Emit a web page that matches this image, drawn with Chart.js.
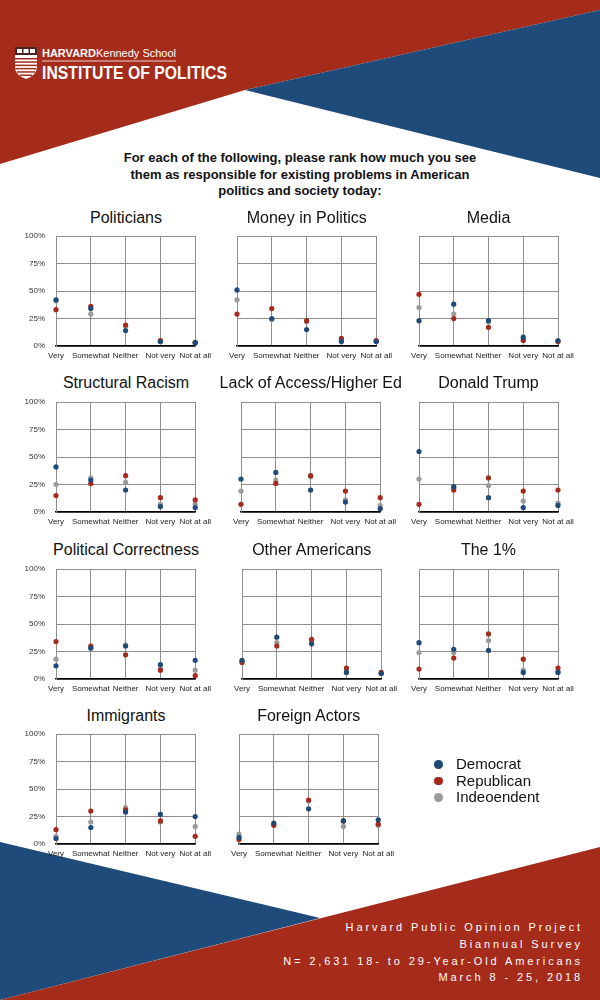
<!DOCTYPE html>
<html>
<head>
<meta charset="utf-8">
<script src="https://cdn.jsdelivr.net/npm/chart.js@4.4.1/dist/chart.umd.min.js"></script>
<style>
  body { margin: 0; background: #fff; }
  #page { position: relative; width: 600px; height: 1000px; overflow: hidden; background: #fff;
          font-family: "Liberation Sans", Arial, Helvetica, sans-serif; }
  #bg { position: absolute; left: 0; top: 0; }
  .heading { position: absolute; left: 0; top: 150px; width: 600px; text-align: center;
             font-size: 13px; font-weight: bold; line-height: 16.5px; color: #111; }
  .chart-title { position: absolute; text-align: center; font-size: 16px; line-height: 20px; color: #111; white-space: nowrap; }
  .chart-box { position: absolute; }
  .legend { position: absolute; left: 430px; top: 756px; font-size: 15px; line-height: 16.7px; color: #111; }
  .legend div { position: relative; padding-left: 26px; }
  .legend span { position: absolute; left: 4px; top: 4px; width: 8.6px; height: 8.6px; border-radius: 50%; }
  .footer { position: absolute; right: 17px; top: 919px; text-align: right; color: #fff;
            font-size: 11px; letter-spacing: 2.9px; line-height: 16.8px; }
</style>
</head>
<body>
<div id="page">
  <svg id="bg" width="600" height="1000" viewBox="0 0 600 1000">
    <!-- header shapes -->
    <polygon points="0,0 600,0 600,10 245,90 0,164" fill="#a52b1b"/>
    <polygon points="245,90 600,10 600,178" fill="#1f4b7b"/>
    <!-- footer shapes -->
    <polygon points="0,842 320,918 0,1000" fill="#1f4b7b"/>
    <polygon points="600,847 600,1000 0,1000" fill="#a52b1b"/>
    <!-- logo -->
    <path d="M15,47 H37 V67 Q37,75 26,79 Q15,75 15,67 Z" fill="#fff"/>
    <rect x="15" y="47" width="22" height="8" fill="#4a2320"/>
    <rect x="17" y="49" width="5" height="4" fill="#fff"/>
    <rect x="23.5" y="49" width="5" height="4" fill="#fff"/>
    <rect x="30" y="49" width="5" height="4" fill="#fff"/>
    <g fill="#a52b1b">
      <rect x="15" y="58" width="22" height="1.5"/>
      <rect x="15" y="61.3" width="22" height="1.5"/>
      <rect x="15" y="64.6" width="22" height="1.5"/>
      <rect x="15.5" y="67.9" width="21" height="1.5"/>
      <rect x="17" y="71.2" width="18" height="1.5"/>
      <rect x="20" y="74.5" width="12" height="1.5"/>
    </g>
    <text x="42" y="57" fill="#fff" font-family="Liberation Sans, Arial" font-size="11" font-weight="bold"
          textLength="134" lengthAdjust="spacingAndGlyphs">HARVARD<tspan font-weight="normal">Kennedy School</tspan></text>
    <line x1="42" y1="61" x2="176" y2="61" stroke="#fff" stroke-width="0.8"/>
    <text x="42" y="79" fill="#fff" font-family="Liberation Sans, Arial" font-size="18.5" font-weight="bold"
          textLength="185" lengthAdjust="spacingAndGlyphs">INSTITUTE OF POLITICS</text>
  </svg>

  <div class="heading">For each of the following, please rank how much you see<br>them as responsible for existing problems in American<br>politics and society today:</div>

  <div id="charts"></div>

  <div class="legend">
    <div><span style="background:#1f4a78"></span>Democrat</div>
    <div><span style="background:#a5291c"></span>Republican</div>
    <div><span style="background:#9b9b9b"></span>Indeoendent</div>
  </div>

  <div class="footer">Harvard Public Opinion Project<br>Biannual Survey<br>N= 2,631 18- to 29-Year-Old Americans<br>March 8 - 25, 2018</div>
</div>

<script>
// ---- data ----
const categories = ['Very', 'Somewhat', 'Neither', 'Not very', 'Not at all'];
const yTickLabels = ['0%', '25%', '50%', '75%', '100%'];

const topics = [
    'Politicians', 'Money in Politics', 'Media',
    'Structural Racism', 'Lack of Access/Higher Ed', 'Donald Trump',
    'Political Correctness', 'Other Americans', 'The 1%',
    'Immigrants', 'Foreign Actors'
];

const democrat = [
    [42, 34, 14, 4, 3],
    [51, 25, 15, 4, 4],
    [23, 38, 23, 8, 5],
    [41, 29, 20, 5, 4],
    [30, 36, 20, 9, 3],
    [55, 23, 13, 4, 6],
    [12, 28, 30, 13, 17],
    [17, 38, 32, 6, 5],
    [33, 27, 26, 6, 6],
    [5, 15, 29, 27, 25],
    [6, 19, 32, 21, 22]
];

const republican = [
    [33, 36, 19, 5, 3],
    [29, 34, 23, 7, 5],
    [47, 25, 17, 5, 4],
    [15, 26, 33, 13, 11],
    [7, 26, 33, 19, 13],
    [7, 20, 31, 19, 20],
    [34, 30, 22, 8, 3],
    [15, 30, 36, 10, 6],
    [9, 19, 41, 18, 10],
    [13, 30, 31, 21, 7],
    [4, 17, 40, 21, 18]
];

const independent = [
    [41, 29, 18, 4, 3],
    [42, 24, 22, 5, 4],
    [35, 29, 22, 6, 4],
    [25, 31, 27, 7, 7],
    [19, 29, 32, 11, 6],
    [30, 22, 24, 10, 8],
    [18, 29, 31, 9, 8],
    [16, 33, 35, 7, 5],
    [24, 24, 35, 8, 7],
    [7, 20, 33, 20, 16],
    [9, 18, 39, 16, 17]
];

// ---- layout (plot rectangles) ----
const rowTops = [236, 402, 569, 734];
const titleCenters = [218, 383, 550, 716];
const colLefts = [
    [56, 237, 419],
    [56, 241, 419],
    [56, 242, 419],
    [56, 239]
];
const plotWidths = [140, 139.5, 139];

const COLORS = { dem: '#1f4a78', rep: '#a5291c', ind: '#9b9b9b' };
const FONT = '"Liberation Sans", Arial, Helvetica, sans-serif';
const GRID = '#8e8e8e';
const Y_AXIS_W = 50;
const CANVAS_W = 210;
const PAD_TOP = 20;
const PLOT_H = 110;
const X_AXIS_H = 25;
const CANVAS_H = PAD_TOP + PLOT_H + X_AXIS_H;

function makeChart(index, row, col) {
    const plotLeft = colLefts[row][col];
    const plotTop = rowTops[row];
    const plotW = plotWidths[col];
    const container = document.getElementById('charts');

    const title = document.createElement('div');
    title.className = 'chart-title';
    title.style.left = (plotLeft - 60) + 'px';
    title.style.width = (plotW + 120) + 'px';
    title.style.top = (titleCenters[row] - 10) + 'px';
    title.textContent = topics[index];
    container.appendChild(title);

    const box = document.createElement('div');
    box.className = 'chart-box';
    box.style.left = (plotLeft - Y_AXIS_W) + 'px';
    box.style.top = (plotTop - PAD_TOP) + 'px';
    const canvas = document.createElement('canvas');
    canvas.width = CANVAS_W;
    canvas.height = CANVAS_H;
    box.appendChild(canvas);
    container.appendChild(box);

    const point = (label, data, color) => ({
        label: label,
        data: data,
        showLine: false,
        pointRadius: 2.6,
        pointBorderWidth: 0,
        pointBackgroundColor: color,
        backgroundColor: color,
        borderColor: color
    });

    new Chart(canvas, {
        type: 'line',
        data: {
            labels: categories,
            datasets: [
                point('Democrat', democrat[index], COLORS.dem),
                point('Republican', republican[index], COLORS.rep),
                point('Indeoendent', independent[index], COLORS.ind)
            ]
        },
        options: {
            responsive: false,
            animation: false,
            events: [],
            layout: {
                padding: { left: 0, right: CANVAS_W - Y_AXIS_W - plotW, top: PAD_TOP, bottom: 0 }
            },
            plugins: {
                legend: { display: false },
                tooltip: { enabled: false }
            },
            scales: {
                x: {
                    offset: false,
                    grid: { color: GRID, lineWidth: 1, drawTicks: false },
                    border: { color: '#000', width: 1.5 },
                    ticks: {
                        padding: 5,
                        color: '#222',
                        maxRotation: 0,
                        autoSkip: false,
                        font: { size: 8, family: FONT }
                    },
                    afterFit: function (scale) { scale.height = X_AXIS_H; }
                },
                y: {
                    min: 0,
                    max: 100,
                    grid: {
                        drawTicks: false,
                        color: ctx => ctx.tick.value === 0 ? '#000' : GRID,
                        lineWidth: ctx => ctx.tick.value === 0 ? 1.5 : 1
                    },
                    border: { color: GRID, width: 1 },
                    ticks: {
                        display: col === 0,
                        stepSize: 25,
                        padding: 11,
                        color: '#333',
                        font: { size: 8, family: FONT },
                        callback: function (value) { return yTickLabels[value / 25]; }
                    },
                    afterFit: function (scale) { scale.width = Y_AXIS_W; }
                }
            }
        }
    });
}

function initCharts() {
    let index = 0;
    colLefts.forEach((cols, row) => {
        cols.forEach((_, col) => {
            makeChart(index, row, col);
            index++;
        });
    });
}

document.addEventListener('DOMContentLoaded', initCharts);
</script>
</body>
</html>
